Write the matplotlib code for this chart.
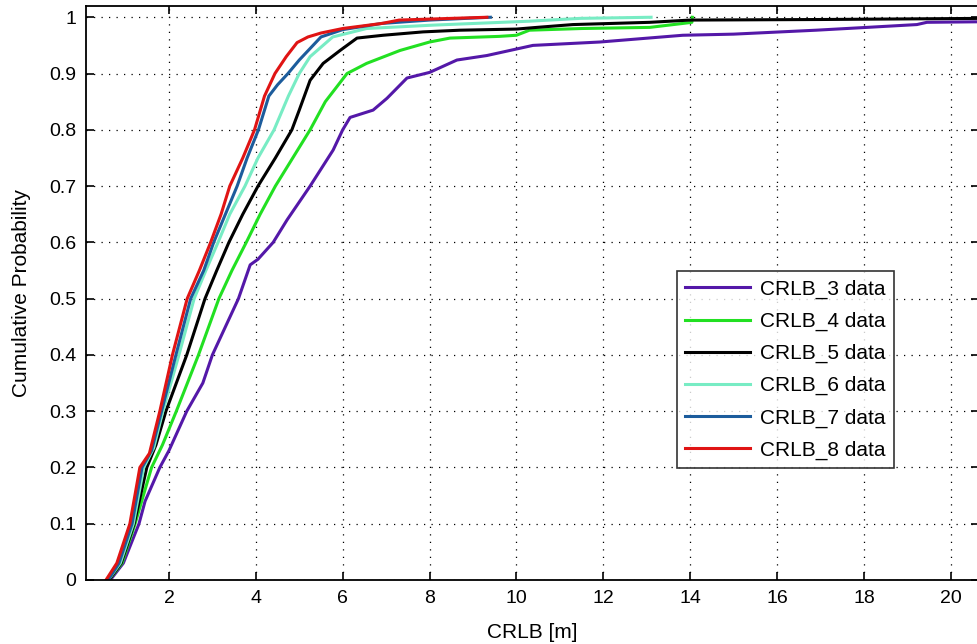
import matplotlib
matplotlib.use('Agg')
import matplotlib.pyplot as plt

# CDF curves (x = CRLB in m, p = cumulative probability)
crlb3_x = [0.65, 0.95, 1.31, 1.45, 1.79, 2.0, 2.41, 2.78, 3.0, 3.3, 3.6, 3.87, 4.05, 4.4, 4.72,
           5.25, 5.78, 6.0, 6.17, 6.7, 7.02, 7.48, 8.0, 8.63, 9.32, 10.38, 11.92, 13.83, 15.0,
           16.9, 18.07, 19.22, 19.45, 20.7]
crlb3_p = [0, 0.03, 0.1, 0.14, 0.2, 0.23, 0.3, 0.35, 0.4, 0.45, 0.5, 0.56, 0.57, 0.6, 0.64,
           0.7, 0.764, 0.8, 0.822, 0.835, 0.856, 0.892, 0.902, 0.924, 0.932, 0.95, 0.956, 0.968, 0.97,
           0.977, 0.982, 0.987, 0.991, 0.992]

crlb4_x = [0.62, 0.92, 1.22, 1.6, 1.85, 2.17, 2.68, 3.15, 3.45, 3.78, 4.1, 4.45, 4.85, 5.25, 5.6,
           6.1, 6.55, 7.32, 8.0, 8.47, 9.6, 10.0, 10.3, 11.5, 13.07, 13.83, 14.04, 14.05]
crlb4_p = [0, 0.03, 0.1, 0.2, 0.24, 0.3, 0.4, 0.5, 0.55, 0.6, 0.65, 0.7, 0.75, 0.8, 0.85,
           0.9, 0.918, 0.941, 0.956, 0.963, 0.966, 0.968, 0.977, 0.98, 0.982, 0.989, 0.991, 1.0]

crlb5_x = [0.62, 0.9, 1.2, 1.49, 1.7, 1.93, 2.41, 2.83, 3.1, 3.38, 3.7, 4.05, 4.45, 4.83, 5.0,
           5.25, 5.55, 5.94, 6.33, 6.93, 7.85, 8.7, 10.0, 10.47, 11.3, 13.07, 14.0, 17.0, 20.7]
crlb5_p = [0, 0.03, 0.1, 0.2, 0.24, 0.3, 0.4, 0.5, 0.55, 0.6, 0.65, 0.7, 0.75, 0.8, 0.835,
           0.888, 0.918, 0.941, 0.963, 0.968, 0.974, 0.977, 0.979, 0.982, 0.987, 0.991, 0.995, 0.996, 0.998]

crlb6_x = [0.6, 0.88, 1.18, 1.42, 1.65, 1.86, 2.23, 2.58, 2.85, 3.13, 3.4, 3.75, 4.05, 4.42, 4.75,
           5.0, 5.25, 5.77, 6.55, 8.08, 10.3, 11.46, 13.1]
crlb6_p = [0, 0.03, 0.1, 0.2, 0.235, 0.3, 0.4, 0.5, 0.55, 0.6, 0.65, 0.7, 0.75, 0.8, 0.86,
           0.9, 0.93, 0.965, 0.98, 0.986, 0.993, 0.998, 1.0]

crlb7_x = [0.6, 0.85, 1.15, 1.38, 1.6, 1.83, 2.16, 2.5, 2.8, 3.03, 3.3, 3.57, 3.8, 4.06, 4.3,
           4.5, 4.74, 5.0, 5.5, 6.0, 6.9, 8.0, 9.4]
crlb7_p = [0, 0.03, 0.1, 0.2, 0.23, 0.3, 0.4, 0.5, 0.55, 0.6, 0.65, 0.7, 0.75, 0.8, 0.86,
           0.88, 0.9, 0.924, 0.965, 0.978, 0.989, 0.995, 1.0]

crlb8_x = [0.55, 0.8, 1.1, 1.33, 1.55, 1.79, 2.08, 2.42, 2.7, 2.96, 3.2, 3.4, 3.7, 3.97, 4.2,
           4.44, 4.7, 4.95, 5.2, 5.5, 6.0, 6.9, 7.3, 8.5, 9.32]
crlb8_p = [0, 0.03, 0.1, 0.2, 0.225, 0.3, 0.4, 0.5, 0.55, 0.6, 0.65, 0.7, 0.75, 0.8, 0.86,
           0.9, 0.93, 0.955, 0.965, 0.972, 0.98, 0.989, 0.995, 0.998, 1.0]

labels = ['CRLB_3 data', 'CRLB_4 data', 'CRLB_5 data', 'CRLB_6 data', 'CRLB_7 data', 'CRLB_8 data']
colors = ['#5418a8', '#22e022', '#000000', '#78ecc4', '#1c5c9c', '#e01414']
xticks = [2, 4, 6, 8, 10, 12, 14, 16, 18, 20]
yticks = [0, 0.1, 0.2, 0.3, 0.4, 0.5, 0.6, 0.7, 0.8, 0.9, 1]

plt.rcParams['font.family'] = ['Liberation Sans', 'DejaVu Sans']

fig = plt.figure(figsize=(9.77, 6.44), dpi=100)
ax = fig.add_axes([86 / 977, 1 - 580 / 644, 893 / 977, 574 / 644])

series = [(crlb3_x, crlb3_p), (crlb4_x, crlb4_p), (crlb5_x, crlb5_p),
          (crlb6_x, crlb6_p), (crlb7_x, crlb7_p), (crlb8_x, crlb8_p)]
for (xs, ps), c, lab in zip(series, colors, labels):
    ax.plot(xs, ps, color=c, lw=2.2, label=lab)

ax.set_xlim(0.09, 20.65)
ax.set_ylim(0, 1.02)
ax.set_xticks(xticks)
ax.set_yticks(yticks)
ax.set_yticklabels(['0', '0.1', '0.2', '0.3', '0.4', '0.5', '0.6', '0.7', '0.8', '0.9', '1'])
ax.tick_params(direction='in', length=6, width=1.2, labelsize=14, top=True, right=True,
               colors='black', pad=7)
ax.grid(True, color='black', linestyle=(0, (1, 5)), linewidth=0.9)
for s in ['left', 'bottom', 'top']:
    ax.spines[s].set_linewidth(1.3)
ax.spines['right'].set_visible(False)

ax.set_xlabel('CRLB [m]', fontsize=15, labelpad=12)
ax.set_ylabel('Cumulative Probability', fontsize=15, labelpad=13)

leg = ax.legend(loc='lower left', bbox_to_anchor=(0.662, 0.195), fontsize=15, frameon=True,
                fancybox=False, edgecolor='black', handlelength=3.1, labelspacing=0.62,
                borderpad=0.4, handletextpad=0.5, borderaxespad=0)
leg.get_frame().set_linewidth(1.2)

fig.savefig('out.png', dpi=100)
